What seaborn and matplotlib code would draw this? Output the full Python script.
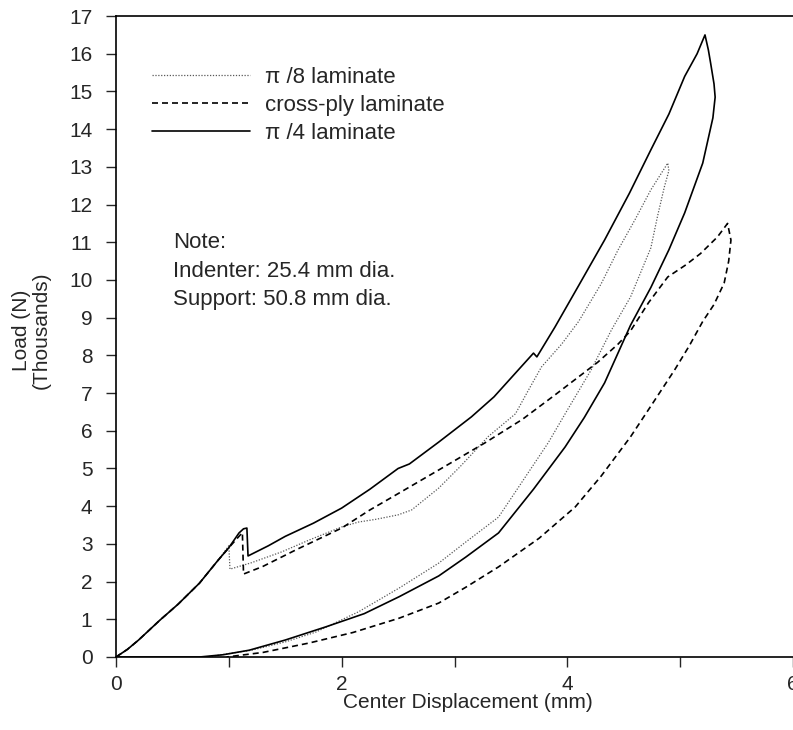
import numpy as np
import pandas as pd
import matplotlib
matplotlib.use("Agg")
import matplotlib.pyplot as plt
import seaborn as sns
from matplotlib.ticker import MultipleLocator

# Load-displacement loops (loading branch followed by unloading branch)
pi8_x = [0.0, 0.10, 0.20, 0.39, 0.55, 0.74, 0.90, 1.00, 1.01, 1.20, 1.47, 1.71, 2.00,
         2.15, 2.30, 2.50, 2.62, 2.86, 3.05, 3.30, 3.54, 3.65, 3.77, 3.95, 4.10, 4.30,
         4.45, 4.60, 4.74, 4.89,
         4.90, 4.86, 4.80, 4.74, 4.65, 4.56, 4.39, 4.21, 4.00, 3.83, 3.60, 3.39, 3.10,
         2.86, 2.51, 2.15, 1.77, 1.50, 1.20, 0.80]
pi8_y = [0.0, 0.20, 0.45, 0.98, 1.40, 1.96, 2.55, 2.95, 2.33, 2.50, 2.79, 3.10, 3.45,
         3.58, 3.65, 3.77, 3.90, 4.48, 5.05, 5.85, 6.45, 7.05, 7.69, 8.30, 8.90, 9.90,
         10.80, 11.60, 12.39, 13.10,
         12.90, 12.47, 11.70, 10.85, 10.20, 9.55, 8.67, 7.61, 6.55, 5.68, 4.65, 3.71, 3.05,
         2.49, 1.83, 1.20, 0.66, 0.40, 0.18, 0.0]

xply_x = [0.0, 0.10, 0.20, 0.39, 0.55, 0.74, 0.90, 1.00, 1.09, 1.12, 1.13, 1.30, 1.60,
          2.00, 2.25, 2.51, 2.86, 3.27, 3.60, 3.89, 4.27, 4.45, 4.56, 4.72, 4.89, 5.05,
          5.18, 5.33, 5.42,
          5.45, 5.43, 5.39, 5.30, 5.20, 5.08, 4.95, 4.75, 4.56, 4.30, 4.07, 3.75, 3.39,
          3.10, 2.86, 2.51, 2.10, 1.71, 1.30, 0.98]
xply_y = [0.0, 0.20, 0.45, 0.98, 1.40, 1.96, 2.55, 2.90, 3.20, 3.30, 2.20, 2.40, 2.85,
          3.42, 3.90, 4.35, 4.96, 5.68, 6.30, 6.95, 7.82, 8.30, 8.65, 9.40, 10.08, 10.40,
          10.70, 11.14, 11.50,
          11.06, 10.50, 9.92, 9.35, 8.90, 8.25, 7.61, 6.70, 5.84, 4.80, 3.98, 3.15, 2.39,
          1.85, 1.43, 1.03, 0.65, 0.37, 0.12, 0.0]

pi4_x = [0.0, 0.10, 0.20, 0.39, 0.55, 0.74, 0.90, 1.00, 1.09, 1.13, 1.16, 1.17, 1.35,
         1.50, 1.75, 2.00, 2.25, 2.50, 2.60, 2.86, 3.15, 3.35, 3.54, 3.70, 3.73, 3.89,
         4.10, 4.33, 4.55, 4.74, 4.90, 5.04, 5.15, 5.22,
         5.25, 5.27, 5.30, 5.31, 5.29, 5.20, 5.04, 4.90, 4.74, 4.56, 4.33, 4.15, 3.98,
         3.70, 3.39, 3.10, 2.86, 2.51, 2.20, 1.86, 1.50, 1.18, 0.95, 0.74, 0.0]
pi4_y = [0.0, 0.20, 0.45, 0.98, 1.40, 1.96, 2.55, 2.90, 3.29, 3.40, 3.42, 2.68, 2.95,
         3.20, 3.55, 3.95, 4.45, 5.00, 5.12, 5.70, 6.37, 6.90, 7.53, 8.06, 7.96, 8.75,
         9.85, 11.06, 12.30, 13.45, 14.40, 15.40, 16.00, 16.50,
         16.10, 15.75, 15.20, 14.85, 14.30, 13.10, 11.78, 10.80, 9.80, 8.80, 7.27, 6.35,
         5.57, 4.45, 3.29, 2.65, 2.15, 1.60, 1.15, 0.80, 0.45, 0.18, 0.06, 0.0, 0.0]

series_names = ["\u03c0 /8 laminate", "cross-ply laminate", "\u03c0 /4 laminate"]

x_ticks = [0, 2, 4, 6]
y_ticks = list(range(0, 18))

sns.set_style("ticks")
plt.rcParams["font.family"] = ["Liberation Sans", "DejaVu Sans"]

fig = plt.figure(figsize=(7.93, 7.30), dpi=100)
ax = fig.add_axes([0.1463, 0.100, 0.8537, 0.878])

styles = [
    dict(color="0.35", linewidth=0.9, linestyle=(0, (1.0, 1.3))),
    dict(color="black", linewidth=1.2, linestyle=(0, (3.6, 2.4))),
    dict(color="black", linewidth=1.2, linestyle="-"),
]
data = [(pi8_x, pi8_y), (xply_x, xply_y), (pi4_x, pi4_y)]

for (xs, ys), name, st in zip(data, series_names, styles):
    df = pd.DataFrame({"disp": xs, "load": ys})
    sns.lineplot(data=df, x="disp", y="load", sort=False, estimator=None,
                 ax=ax, label=name, **st)

ax.set_xlim(0, 6)
ax.set_ylim(0, 17)
ax.set_xticks(x_ticks)
ax.xaxis.set_minor_locator(MultipleLocator(1))
ax.set_yticks(y_ticks)

for side in ["left", "bottom", "top"]:
    ax.spines[side].set_linewidth(1.2)
    ax.spines[side].set_color("black")
ax.spines["right"].set_visible(False)

ax.tick_params(axis="y", which="both", direction="out", length=7, width=1.0,
               pad=10, labelsize=15)
ax.tick_params(axis="x", which="both", direction="out", length=7, width=1.0,
               pad=6, labelsize=15)

ax.set_xlabel("Center Displacement (mm)", fontsize=15)
ax.xaxis.set_label_coords(0.52, -0.056)
ax.set_ylabel("")
ax.text(-0.125, 0.51, "Load (N)\n(Thousands)", transform=ax.transAxes,
        rotation=90, ha="center", va="center", fontsize=15, linespacing=1.0)

ax.text(0.084, 0.646, "Note:", transform=ax.transAxes, fontsize=16, va="center")
ax.text(0.084, 0.601, "Indenter: 25.4 mm dia.", transform=ax.transAxes,
        fontsize=16, va="center")
ax.text(0.084, 0.557, "Support: 50.8 mm dia.", transform=ax.transAxes,
        fontsize=16, va="center")

leg = ax.legend(loc="upper left", bbox_to_anchor=(0.053, 0.921), frameon=False,
                fontsize=16, handlelength=4.4, handletextpad=0.68,
                labelspacing=0.32, borderpad=0, borderaxespad=0)

fig.savefig("out.png", dpi=100, facecolor="white")
